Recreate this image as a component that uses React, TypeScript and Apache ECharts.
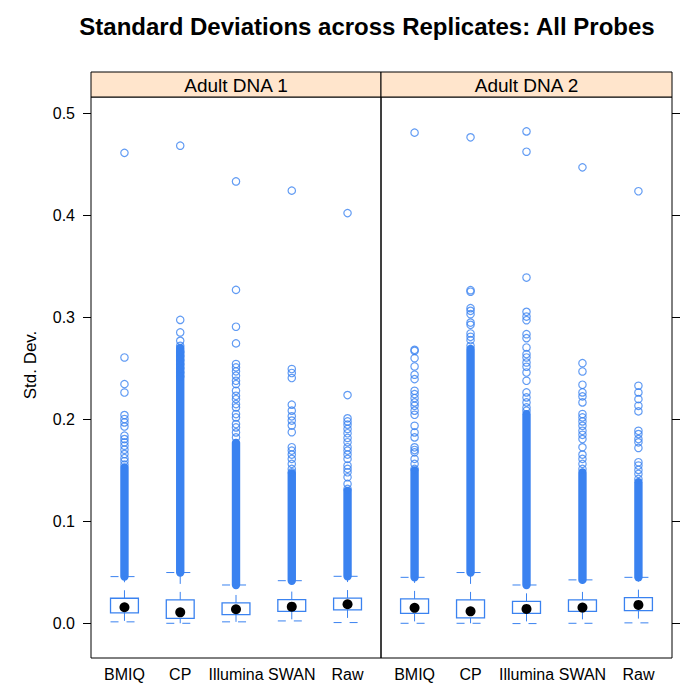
import React, { useEffect, useRef } from "react";
import * as echarts from "echarts";

const chartTitle = "Standard Deviations across Replicates: All Probes";
const yAxisTitle = "Std. Dev.";
const methods = ["BMIQ", "CP", "Illumina", "SWAN", "Raw"];
const panels = ["Adult DNA 1", "Adult DNA 2"];
const yTicks = [0, 0.1, 0.2, 0.3, 0.4, 0.5];

// [lower whisker, Q1, median, Q3, upper whisker]
const dna1Stats = [
  [0.0017, 0.0105, 0.016, 0.0248, 0.046],
  [0.0003, 0.0052, 0.011, 0.0232, 0.05],
  [0.0017, 0.0088, 0.014, 0.0202, 0.0378],
  [0.0026, 0.012, 0.0166, 0.0235, 0.042],
  [0.001, 0.0134, 0.0189, 0.025, 0.0463],
];
const dna2Stats = [
  [0.0003, 0.01, 0.0154, 0.0242, 0.0453],
  [0.0003, 0.0056, 0.012, 0.0232, 0.05],
  [0.0, 0.01, 0.0144, 0.0218, 0.0378],
  [0.0003, 0.012, 0.0157, 0.0232, 0.0428],
  [0.0007, 0.0127, 0.0183, 0.0254, 0.0453],
];

// top of the densely overlapping outlier column (bottom = upper whisker)
const dna1DenseTop = [0.153, 0.27, 0.177, 0.147, 0.13];
const dna2DenseTop = [0.15, 0.269, 0.205, 0.148, 0.1385];

// individually visible outliers
const dna1BMIQ = [0.461, 0.2606, 0.2345, 0.2263, 0.2042, 0.2003, 0.197, 0.193, 0.184, 0.1807, 0.1775, 0.1742, 0.1703, 0.166, 0.162, 0.159, 0.1557];
const dna1CP = [0.468, 0.2974, 0.2851, 0.2769, 0.272, 0.266, 0.262, 0.258, 0.254, 0.25, 0.246, 0.242];
const dna1Illumina = [0.433, 0.3268, 0.2907, 0.2744, 0.2542, 0.2509, 0.247, 0.2428, 0.2378, 0.2345, 0.228, 0.2231, 0.2198, 0.2149, 0.2117, 0.2052, 0.2019, 0.1954, 0.1921, 0.1872, 0.1823];
const dna1SWAN = [0.424, 0.2493, 0.2454, 0.2405, 0.2144, 0.2085, 0.203, 0.1988, 0.1939, 0.1874, 0.1727, 0.1694, 0.1655, 0.1613, 0.1564, 0.1515, 0.1482];
const dna1Raw = [0.402, 0.2238, 0.201, 0.198, 0.1948, 0.1906, 0.1864, 0.1818, 0.1776, 0.1727, 0.1694, 0.1655, 0.1613, 0.1548, 0.1515, 0.1482, 0.1433, 0.1368, 0.1319];

const dna2BMIQ = [0.4808, 0.2681, 0.267, 0.2599, 0.2518, 0.2437, 0.2394, 0.228, 0.2247, 0.2208, 0.2166, 0.2133, 0.2085, 0.2045, 0.1937, 0.1872, 0.1823, 0.1726, 0.17, 0.1677, 0.1613, 0.1564, 0.1515];
const dna2CP = [0.4762, 0.3265, 0.325, 0.3089, 0.3063, 0.303, 0.2948, 0.2926, 0.2841, 0.2809, 0.2776, 0.2721];
const dna2Illumina = [0.482, 0.4621, 0.3389, 0.3053, 0.3007, 0.2971, 0.2834, 0.2795, 0.2704, 0.2639, 0.2606, 0.2557, 0.2515, 0.2459, 0.2378, 0.2264, 0.2215, 0.2166, 0.2117, 0.2085];
const dna2SWAN = [0.4468, 0.255, 0.2469, 0.2339, 0.2264, 0.2225, 0.2166, 0.2052, 0.2019, 0.198, 0.1937, 0.1888, 0.1849, 0.1807, 0.1726, 0.1655, 0.1613, 0.1564, 0.1515];
const dna2Raw = [0.4234, 0.2329, 0.2264, 0.2198, 0.2133, 0.2078, 0.1888, 0.1856, 0.1807, 0.1775, 0.172, 0.158, 0.1548, 0.1505, 0.1466, 0.1417];

const dna1Outliers = [dna1BMIQ, dna1CP, dna1Illumina, dna1SWAN, dna1Raw];
const dna2Outliers = [dna2BMIQ, dna2CP, dna2Illumina, dna2SWAN, dna2Raw];

const BLUE = "#3a82f0";
const FONT = "Liberation Sans, Arial, Helvetica, sans-serif";

const GRIDS = [
  { left: 91, top: 97, width: 290, height: 561 },
  { left: 381, top: 97, width: 291, height: 561 },
];
const STRIP_H = 25;
const Y_MIN = -0.0337;
const Y_MAX = 0.5157;

function boxRender(params: any, api: any) {
  const x = api.value(0);
  const lo = api.coord([x, api.value(1)]);
  const q1 = api.coord([x, api.value(2)]);
  const med = api.coord([x, api.value(3)]);
  const q3 = api.coord([x, api.value(4)]);
  const hi = api.coord([x, api.value(5)]);
  const half = api.size([0.25, 0])[0];
  const cx = lo[0];
  const dash = { stroke: BLUE, lineWidth: 1, lineDash: [8, 8], fill: "none" };
  return {
    type: "group",
    children: [
      { type: "line", shape: { x1: cx, y1: q3[1], x2: cx, y2: hi[1] }, style: dash },
      { type: "line", shape: { x1: cx - half, y1: hi[1], x2: cx + half, y2: hi[1] }, style: dash },
      { type: "line", shape: { x1: cx, y1: q1[1], x2: cx, y2: lo[1] }, style: dash },
      { type: "line", shape: { x1: cx - half, y1: lo[1], x2: cx + half, y2: lo[1] }, style: dash },
      {
        type: "rect",
        shape: { x: cx - half, y: q3[1], width: half * 2, height: q1[1] - q3[1] },
        style: { fill: "none", stroke: BLUE, lineWidth: 1.3 },
      },
      { type: "circle", shape: { cx, cy: med[1], r: 5 }, style: { fill: "#000" } },
    ],
  };
}

function bandRender(params: any, api: any) {
  const x = api.value(0);
  const lo = api.coord([x, api.value(1)]);
  const hi = api.coord([x, api.value(2)]);
  const w = 8.4;
  return {
    type: "rect",
    shape: { x: lo[0] - w / 2, y: hi[1] - w / 2, width: w, height: lo[1] - hi[1] + w, r: w / 2 },
    style: { fill: BLUE },
  };
}

export default function App() {
  const ref = useRef<HTMLDivElement>(null);

  useEffect(() => {
    if (!ref.current) return;
    const chart = echarts.init(ref.current, null, { renderer: "svg" });

    const statsAll = [dna1Stats, dna2Stats];
    const denseAll = [dna1DenseTop, dna2DenseTop];
    const outAll = [dna1Outliers, dna2Outliers];

    const series: any[] = [];
    panels.forEach((_, p) => {
      series.push({
        type: "custom",
        name: "dense" + p,
        xAxisIndex: p,
        yAxisIndex: p,
        renderItem: bandRender,
        encode: { x: 0, y: [1, 2] },
        data: methods.map((_, m) => [m + 1, statsAll[p][m][4], denseAll[p][m]]),
        silent: true,
        z: 2,
      });
      series.push({
        type: "custom",
        name: "box" + p,
        xAxisIndex: p,
        yAxisIndex: p,
        renderItem: boxRender,
        encode: { x: 0, y: [1, 2, 3, 4, 5] },
        data: methods.map((_, m) => [m + 1, ...statsAll[p][m]]),
        silent: true,
        z: 3,
      });
      const pts: number[][] = [];
      methods.forEach((_, m) => outAll[p][m].forEach((v) => pts.push([m + 1, v])));
      series.push({
        type: "scatter",
        name: "out" + p,
        xAxisIndex: p,
        yAxisIndex: p,
        symbol: "circle",
        symbolSize: 7.4,
        itemStyle: { color: "transparent", borderColor: BLUE, borderWidth: 1.2 },
        data: pts,
        silent: true,
        z: 4,
      });
    });

    const graphic: any[] = [];
    panels.forEach((name, p) => {
      const g = GRIDS[p];
      graphic.push({
        type: "rect",
        shape: { x: g.left, y: g.top - STRIP_H, width: g.width, height: STRIP_H },
        style: { fill: "#ffe5cc", stroke: "#000", lineWidth: 1 },
      });
      graphic.push({
        type: "text",
        x: g.left + g.width / 2,
        y: g.top - STRIP_H / 2 + 1,
        style: { text: name, font: `19px ${FONT}`, fill: "#000", align: "center", verticalAlign: "middle" },
      });
    });
    graphic.push({
      type: "text",
      x: 367,
      y: 26,
      style: { text: chartTitle, font: `bold 24px ${FONT}`, fill: "#000", align: "center", verticalAlign: "middle" },
    });
    graphic.push({
      type: "text",
      x: 30,
      y: 365,
      rotation: Math.PI / 2,
      style: { text: yAxisTitle, font: `17px ${FONT}`, fill: "#000", align: "center", verticalAlign: "middle" },
    });

    chart.setOption({
      animation: false,
      backgroundColor: "#fff",
      grid: GRIDS.map((g) => ({
        ...g,
        show: true,
        borderColor: "#000",
        borderWidth: 1,
        backgroundColor: "transparent",
        containLabel: false,
      })),
      xAxis: GRIDS.map((_, p) => ({
        type: "value",
        gridIndex: p,
        min: 0.4,
        max: 5.6,
        axisLine: { show: false },
        axisTick: { show: false },
        splitLine: { show: false },
        axisLabel: {
          customValues: [1, 2, 3, 4, 5],
          formatter: (v: number) => methods[Math.round(v) - 1] ?? "",
          fontSize: 16,
          fontFamily: FONT,
          color: "#000",
          margin: 8,
        },
      })),
      yAxis: GRIDS.map((_, p) => ({
        type: "value",
        gridIndex: p,
        min: Y_MIN,
        max: Y_MAX,
        position: p === 0 ? "left" : "right",
        axisLine: { show: false },
        splitLine: { show: false },
        axisTick: {
          show: true,
          customValues: yTicks,
          length: 8,
          lineStyle: { color: "#000", width: 1 },
        },
        axisLabel: {
          show: p === 0,
          customValues: yTicks,
          formatter: (v: number) => v.toFixed(1),
          fontSize: 16,
          fontFamily: FONT,
          color: "#000",
          margin: 16,
        },
      })),
      graphic,
      series,
    });

    return () => chart.dispose();
  }, []);

  return (
    <div
      ref={ref}
      style={{ position: "fixed", left: 0, top: 0, width: 700, height: 699, background: "#fff" }}
    />
  );
}
